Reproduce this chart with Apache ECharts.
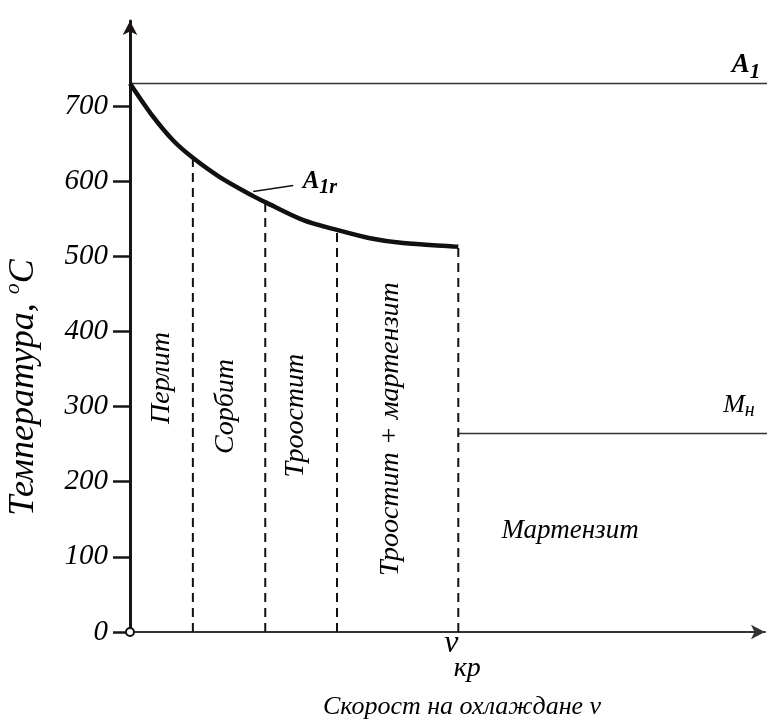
<!DOCTYPE html>
<html>
<head>
<meta charset="utf-8">
<script src="https://cdn.jsdelivr.net/npm/echarts@6/dist/echarts.min.js"></script>
<style>
  html, body { margin: 0; padding: 0; background: #fff; }
  #chart { width: 772px; height: 722px; }
</style>
</head>
<body>
<div id="chart"></div>
<script>
// Cooling curve A1r (temperature vs cooling rate, rate in relative units 0..100)
const curveX = [0, 3.7, 6.8, 9.9, 14.2, 19.4, 21.3, 27.3, 32.6, 37.8, 43.0, 50.9, 51.7]
const curveT = [730, 685, 654, 631, 605, 580, 572, 548, 535, 524, 517.5, 513, 512.5]

// Dashed phase boundaries (last one is v_kr)
const boundaryX = [9.9, 21.3, 32.6, 51.7]
const boundaryT = [631, 572, 535, 512]

const a1Temp = 730
const msTemp = 264
const vCritical = 51.7

const yTicks = [0, 100, 200, 300, 400, 500, 600, 700]

// Vertical region names
const regionNames = ['Перлит', 'Сорбит', 'Троостит', 'Троостит + мартензит']
const regionX = [5.0, 15.1, 26.1, 41.1]
const regionY = [338, 300, 288, 270]

const ink = '#000'
const serif = '"Liberation Serif", "DejaVu Serif", serif'

const chart = echarts.init(document.getElementById('chart'), null, { renderer: 'canvas' })

// dashed boundaries as separate short series
const boundarySeries = boundaryX.map((x, i) => ({
  type: 'line',
  data: [[x, 0], [x, boundaryT[i]]],
  symbol: 'none',
  silent: true,
  lineStyle: { color: '#111', width: 2, type: [9, 6] }
}))

// text placed at a data point (scatter default opacity is 0.8, so force 1)
const textLabel = (name, x, y, label) => ({
  type: 'scatter',
  data: [[x, y]],
  symbolSize: 0,
  silent: true,
  itemStyle: { color: '#000', opacity: 1 },
  label: Object.assign({
    show: true,
    position: 'inside',
    formatter: name,
    color: ink,
    textBorderWidth: 0,
    fontFamily: serif,
    fontStyle: 'italic',
    fontSize: 28
  }, label)
})

const option = {
  animation: false,
  grid: { left: 130, right: 7, top: 21, bottom: 90, outerBoundsMode: 'none', containLabel: false },
  xAxis: {
    type: 'value',
    min: 0,
    max: 100,
    name: 'Скорост на охлаждане v',
    nameLocation: 'middle',
    nameGap: 62,
    nameTextStyle: { color: ink, fontFamily: serif, fontStyle: 'italic', fontSize: 26, padding: [0, 0, 0, 29] },
    axisLine: {
      show: true,
      onZero: false,
      symbol: ['none', 'arrow'],
      symbolSize: [11, 14],
      lineStyle: { color: '#333', width: 2 }
    },
    axisTick: { show: false },
    splitLine: { show: false },
    axisLabel: {
      customValues: [vCritical],
      margin: 0,
      formatter: () => '{v|v}\n{s|кр}',
      rich: {
        v: { fontFamily: serif, fontStyle: 'italic', fontSize: 32, color: ink, lineHeight: 24, padding: [0, 14, 0, 0] },
        s: { fontFamily: serif, fontStyle: 'italic', fontSize: 28, color: ink, lineHeight: 26, padding: [0, 0, 0, 18] }
      }
    }
  },
  yAxis: {
    type: 'value',
    min: 0,
    max: 813,
    name: '{a|Температура, }{o|o}{a|C}',
    nameLocation: 'middle',
    nameRotate: 90,
    nameGap: 88,
    nameTextStyle: {
      padding: [0, 122, 0, 0],
      rich: {
        a: { fontFamily: serif, fontStyle: 'italic', fontSize: 36, color: ink, lineHeight: 40, verticalAlign: 'bottom' },
        o: { fontFamily: serif, fontStyle: 'italic', fontSize: 22, color: ink, lineHeight: 40, verticalAlign: 'top' }
      }
    },
    axisLine: {
      show: true,
      onZero: false,
      symbol: ['none', 'arrow'],
      symbolSize: [11, 14],
      lineStyle: { color: '#1a1414', width: 3 }
    },
    axisTick: {
      show: true,
      customValues: yTicks,
      length: 17,
      lineStyle: { color: '#1a1414', width: 2.5 }
    },
    axisLabel: {
      customValues: yTicks,
      margin: 22,
      color: ink,
      fontFamily: serif,
      fontStyle: 'italic',
      fontSize: 29
    },
    splitLine: { show: false }
  },
  series: [
    // A1 line
    {
      type: 'line',
      data: [[0, a1Temp], [101, a1Temp]],
      symbol: 'none',
      clip: false,
      silent: true,
      lineStyle: { color: '#333', width: 1.5 }
    },
    // Mн line
    {
      type: 'line',
      data: [[vCritical, msTemp], [101, msTemp]],
      symbol: 'none',
      clip: false,
      silent: true,
      lineStyle: { color: '#333', width: 1.5 }
    },
    ...boundarySeries,
    // A1r curve
    {
      type: 'line',
      data: curveX.map((x, i) => [x, curveT[i]]),
      symbol: 'none',
      smooth: 0.3,
      silent: true,
      lineStyle: { color: '#111', width: 4.5 }
    },
    // leader line to A1r label
    {
      type: 'line',
      data: [[19.4, 586], [25.7, 594]],
      symbol: 'none',
      silent: true,
      lineStyle: { color: '#111', width: 1.5 }
    },
    // origin marker
    {
      type: 'scatter',
      data: [[0, 0]],
      symbol: 'circle',
      symbolSize: 8,
      clip: false,
      silent: true,
      itemStyle: { color: '#fff', borderColor: '#111', borderWidth: 2, opacity: 1 },
      z: 5
    },
    ...regionNames.map((n, i) => textLabel(n, regionX[i], regionY[i], { rotate: 90 })),
    textLabel('Мартензит', 69.3, 135, { fontSize: 27 }),
    textLabel('{m|M}{s|н}', 95.9, 302, {
      rich: {
        m: { fontFamily: serif, fontStyle: 'italic', fontSize: 26, color: ink },
        s: { fontFamily: serif, fontStyle: 'italic', fontSize: 20, color: ink, padding: [12, 0, 0, 0] }
      }
    }),
    textLabel('{m|A}{s|1}', 97.0, 755, {
      rich: {
        m: { fontFamily: serif, fontStyle: 'italic', fontWeight: 'bold', fontSize: 27, color: ink },
        s: { fontFamily: serif, fontStyle: 'italic', fontWeight: 'bold', fontSize: 21, color: ink, padding: [16, 0, 0, 0] }
      }
    }),
    textLabel('{m|A}{s|1r}', 29.9, 600, {
      rich: {
        m: { fontFamily: serif, fontStyle: 'italic', fontWeight: 'bold', fontSize: 25, color: ink },
        s: { fontFamily: serif, fontStyle: 'italic', fontWeight: 'bold', fontSize: 20, color: ink, padding: [14, 0, 0, 0] }
      }
    })
  ]
}

chart.setOption(option)
</script>
</body>
</html>
